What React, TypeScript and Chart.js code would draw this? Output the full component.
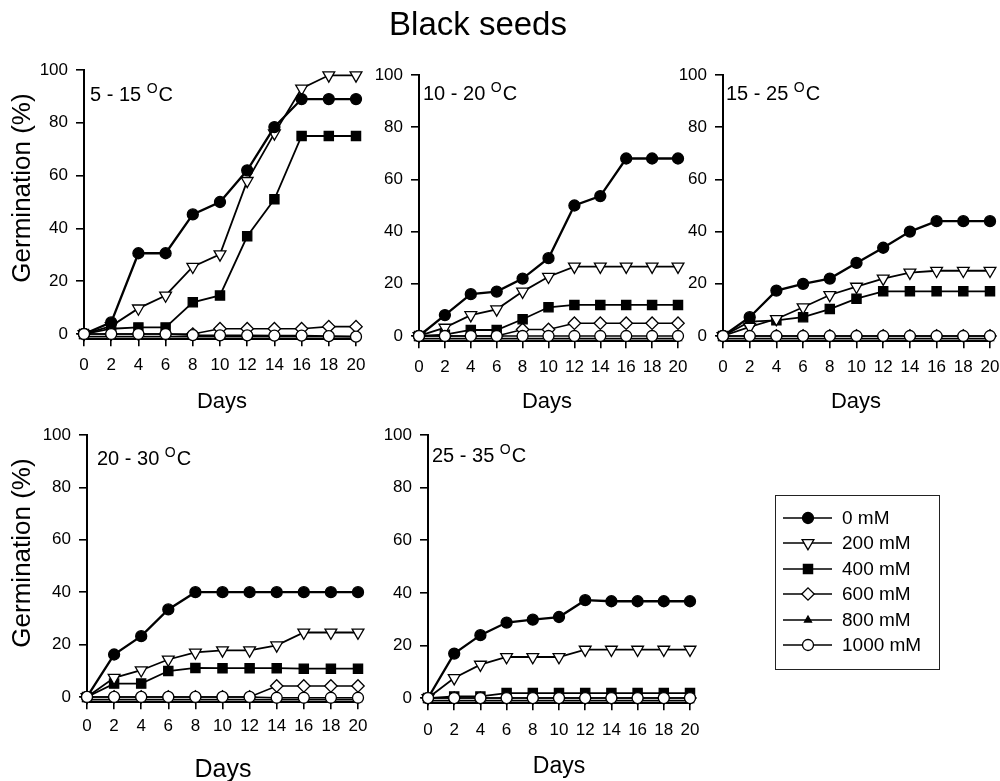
import React, { useEffect, useRef } from 'react';
import { Chart, registerables } from 'chart.js';
import { drawPoint } from 'chart.js/helpers';

Chart.register(...registerables);

const FONT = "'Liberation Sans', Arial, Helvetica, sans-serif";

const chartTitle = 'Black seeds';
const days = [0, 2, 4, 6, 8, 10, 12, 14, 16, 18, 20];
const yTicks = [0, 20, 40, 60, 80, 100];
const concentrations = ['0 mM', '200 mM', '400 mM', '600 mM', '800 mM', '1000 mM'];
const xTitle = 'Days';
const yTitle = 'Germination (%)';

// 5 - 15 °C
const p1_0 = [0, 4.4, 30.6, 30.6, 45.3, 50, 62, 78.4, 89, 89, 89];
const p1_200 = [0, 3, 9.7, 14.6, 25.5, 30.2, 58, 76, 93, 98, 98];
const p1_400 = [0, 2, 2.5, 2.5, 12, 14.6, 37, 51, 75, 75, 75];
const p1_600 = [0, 0, 0, 0, 0, 2, 2, 2, 2, 2.8, 2.8];
const p1_800 = [-1, -1, -1, -1, -1, -1, -1, -1, -1, -1, -1];
const p1_1000 = [0, 0, 0, 0, -0.4, -0.5, -0.5, -0.6, -0.6, -0.8, -1];

// 10 - 20 °C
const p2_0 = [0, 8, 16, 17, 22, 29.8, 50, 53.6, 68, 68, 68];
const p2_200 = [0, 3.2, 8, 10.2, 17, 22.7, 26.6, 26.6, 26.6, 26.6, 26.6];
const p2_400 = [0, 0.5, 2.3, 2.3, 6.4, 11, 11.9, 11.9, 11.9, 11.9, 11.9];
const p2_600 = [0, 0, 0, 0, 2.5, 2.5, 4.9, 4.9, 4.9, 4.9, 4.9];
const p2_800 = [-1, -1, -1, -1, -1, -1, -1, -1, -1, -1, -1];
const p2_1000 = [0, 0, 0, 0, 0, 0, 0, 0, 0, 0, 0];

// 15 - 25 °C
const p3_0 = [0, 7.2, 17.4, 20, 22, 28, 33.8, 40, 44, 44, 44];
const p3_200 = [0, 3.5, 6.5, 11, 15.7, 18.9, 22, 24.3, 25, 25, 25];
const p3_400 = [0, 5.5, 6, 7.2, 10.3, 14.3, 17.1, 17.1, 17.1, 17.1, 17.1];
const p3_600 = [0, 0, 0, 0, 0, 0, 0, 0, 0, 0, 0];
const p3_800 = [-1, -1, -1, -1, -1, -1, -1, -1, -1, -1, -1];
const p3_1000 = [0, 0, 0, 0, 0, 0, 0, 0, 0, 0, 0];

// 20 - 30 °C
const p4_0 = [0, 16.2, 23.2, 33.4, 40, 40, 40, 40, 40, 40, 40];
const p4_200 = [0, 7.3, 10.2, 14.3, 17, 17.8, 17.8, 19.7, 24.6, 24.6, 24.6];
const p4_400 = [0, 5.1, 5.1, 9.9, 11.1, 11, 11, 11, 10.8, 10.8, 10.8];
const p4_600 = [0, 0, 0, 0, 0, 0, 0, 4.2, 4.2, 4.2, 4.2];
const p4_800 = [-1, -1, -1, -1, -1, -1, -1, -1, -1, -1, -1];
const p4_1000 = [0, 0, 0, 0, 0, 0, 0, -0.3, -0.3, -0.3, -0.3];

// 25 - 35 °C
const p5_0 = [0, 16.9, 23.9, 28.7, 29.8, 30.8, 37.2, 36.8, 36.8, 36.8, 36.8];
const p5_200 = [0, 7.6, 12.7, 15.6, 15.6, 15.6, 18.4, 18.4, 18.4, 18.4, 18.4];
const p5_400 = [0, 0.6, 0.6, 1.9, 1.9, 1.9, 1.9, 1.9, 1.9, 1.9, 1.9];
const p5_600 = [0, 0, 0, 0, 0, 0, 0, 0, 0, 0, 0];
const p5_800 = [-1, -1, -1, -1, -1, -1, -1, -1, -1, -1, -1];
const p5_1000 = [0, 0, 0, 0, 0, 0, 0, 0, 0, 0, 0];

const panelTemps = [
  ['5 - 15 ', 'O', 'C'],
  ['10 - 20 ', 'O', 'C'],
  ['15 - 25 ', 'O', 'C'],
  ['20 - 30 ', 'O', 'C'],
  ['25 - 35 ', 'O', 'C'],
];
const panelSeries = [
  [p1_0, p1_200, p1_400, p1_600, p1_800, p1_1000],
  [p2_0, p2_200, p2_400, p2_600, p2_800, p2_1000],
  [p3_0, p3_200, p3_400, p3_600, p3_800, p3_1000],
  [p4_0, p4_200, p4_400, p4_600, p4_800, p4_1000],
  [p5_0, p5_200, p5_400, p5_600, p5_800, p5_1000],
];

// ---- styles & layout (not data) ----
const seriesStyle = [
  { pointStyle: 'circle', fill: '#000', radius: 5.5, rotation: 0, lineWidth: 2.3, order: 1 },
  { pointStyle: 'triangle', fill: '#fff', radius: 6.8, rotation: 180, lineWidth: 1.8, order: 2 },
  { pointStyle: 'rect', fill: '#000', radius: 6.5, rotation: 0, lineWidth: 1.8, order: 3 },
  { pointStyle: 'rectRot', fill: '#fff', radius: 6.2, rotation: 0, lineWidth: 1.6, order: 4 },
  { pointStyle: 'triangle', fill: '#000', radius: 4, rotation: 0, lineWidth: 1.6, order: 5 },
  { pointStyle: 'circle', fill: '#fff', radius: 5.5, rotation: 0, lineWidth: 1.6, order: 0 },
];

const W = 1000;
const H = 781;
const Y_AXIS_W = 60;
const X_AXIS_H = 60;

const layouts = [
  { l: 84, r: 356, t: 70, b: 339.3, xPad: 9, lab: { x: 90, y: 101 }, days: { x: 222, y: 402, s: 22 }, germ: { x: 23, y: 188 }, title: true },
  { l: 419, r: 678, t: 75, b: 341.2, xPad: 9, lab: { x: 423, y: 100 }, days: { x: 547, y: 402, s: 22 }, germ: null, title: false },
  { l: 723, r: 990, t: 75, b: 341.2, xPad: 9, lab: { x: 726, y: 100 }, days: { x: 856, y: 402, s: 22 }, germ: null, title: false },
  { l: 87, r: 358, t: 435, b: 702.2, xPad: 7, lab: { x: 97, y: 465 }, days: { x: 223, y: 770, s: 25 }, germ: { x: 23, y: 553 }, title: false },
  { l: 428, r: 690, t: 435, b: 703.3, xPad: 10, lab: { x: 432, y: 462 }, days: { x: 559, y: 767, s: 23 }, germ: null, title: false, legend: true },
];

const legendBox = { x: 775.5, y: 495.5, w: 164, h: 174, rows: [518, 543, 569, 594, 620, 645], l0: 783, l1: 832, mx: 808, tx: 842, fs: 19 };

function font(size: number) {
  return `${size}px ${FONT}`;
}

function makeDecor(idx: number) {
  const L = layouts[idx];
  return {
    id: 'decor' + idx,
    afterDraw(chart: any) {
      const ctx = chart.ctx as CanvasRenderingContext2D;
      ctx.save();
      ctx.fillStyle = '#000';
      // panel temperature label
      const [a, sup, c] = panelTemps[idx];
      ctx.textAlign = 'left';
      ctx.textBaseline = 'alphabetic';
      ctx.font = font(20);
      ctx.fillText(a, L.lab.x, L.lab.y);
      let x = L.lab.x + ctx.measureText(a).width;
      ctx.font = font(14);
      ctx.fillText(sup, x, L.lab.y - 8);
      x += ctx.measureText(sup).width + 1;
      ctx.font = font(20);
      ctx.fillText(c, x, L.lab.y);

      // Days
      ctx.textAlign = 'center';
      ctx.textBaseline = 'middle';
      ctx.font = font(L.days.s);
      ctx.fillText(xTitle, L.days.x, L.days.y);

      // Germination
      if (L.germ) {
        ctx.save();
        ctx.translate(L.germ.x, L.germ.y);
        ctx.rotate(-Math.PI / 2);
        ctx.font = font(26);
        ctx.fillText(yTitle, 0, 0);
        ctx.restore();
      }

      if (L.title) {
        ctx.font = font(33);
        ctx.textAlign = 'center';
        ctx.textBaseline = 'alphabetic';
        ctx.fillText(chartTitle, 478, 35);
      }

      if ((L as any).legend) {
        const B = legendBox;
        ctx.strokeStyle = '#222';
        ctx.lineWidth = 1;
        ctx.strokeRect(B.x, B.y, B.w, B.h);
        concentrations.forEach((name, i) => {
          const y = B.rows[i];
          const st = seriesStyle[i];
          ctx.strokeStyle = '#000';
          ctx.lineWidth = 1.5;
          ctx.beginPath();
          ctx.moveTo(B.l0, y);
          ctx.lineTo(B.l1, y);
          ctx.stroke();
          ctx.fillStyle = st.fill;
          ctx.strokeStyle = '#000';
          ctx.lineWidth = 1.3;
          drawPoint(ctx, { pointStyle: st.pointStyle as any, radius: st.radius, rotation: st.rotation, borderWidth: 1.3 }, B.mx, y);
          ctx.fillStyle = '#000';
          ctx.font = font(B.fs);
          ctx.textAlign = 'left';
          ctx.textBaseline = 'middle';
          ctx.fillText(name, B.tx, y + 1);
        });
      }
      ctx.restore();
    },
  };
}

function Panel({ idx }: { idx: number }) {
  const ref = useRef<HTMLCanvasElement>(null);
  useEffect(() => {
    const L = layouts[idx];
    const series = panelSeries[idx];
    const chart = new Chart(ref.current as HTMLCanvasElement, {
      type: 'line',
      data: {
        datasets: series.map((vals, i) => {
          const st = seriesStyle[i];
          return {
            label: concentrations[i],
            data: days.map((d, k) => ({ x: d, y: vals[k] })),
            borderColor: '#000',
            borderWidth: st.lineWidth,
            tension: 0,
            fill: false,
            pointStyle: st.pointStyle as any,
            pointRadius: st.radius,
            pointRotation: st.rotation,
            pointBackgroundColor: st.fill,
            pointBorderColor: '#000',
            pointBorderWidth: 1.3,
            order: st.order,
            clip: false as any,
          };
        }),
      },
      options: {
        responsive: false,
        animation: false,
        events: [],
        layout: {
          autoPadding: false,
          padding: {
            left: L.l - Y_AXIS_W,
            right: W - L.r,
            top: L.t,
            bottom: H - L.b - X_AXIS_H,
          },
        },
        plugins: {
          legend: { display: false },
          title: { display: false },
          tooltip: { enabled: false },
        },
        scales: {
          x: {
            type: 'linear',
            min: 0,
            max: 20,
            afterBuildTicks: (s: any) => {
              s.ticks = days.map((v) => ({ value: v }));
            },
            afterFit: (s: any) => {
              s.height = X_AXIS_H;
              s.paddingLeft = 0;
              s.paddingRight = 0;
            },
            border: { display: true, color: '#000', width: 2 },
            grid: { display: true, drawOnChartArea: false, drawTicks: true, tickLength: 7, color: '#000', lineWidth: 1.6 },
            ticks: { autoSkip: false, maxRotation: 0, minRotation: 0, padding: L.xPad, color: '#000', font: { size: 17, family: FONT } },
          },
          y: {
            type: 'linear',
            min: -2,
            max: 100,
            afterBuildTicks: (s: any) => {
              s.ticks = yTicks.map((v) => ({ value: v }));
            },
            afterFit: (s: any) => {
              s.width = Y_AXIS_W;
              s.paddingTop = 0;
              s.paddingBottom = 0;
            },
            border: { display: true, color: '#000', width: 2 },
            grid: { display: true, drawOnChartArea: false, drawTicks: true, tickLength: 8, color: '#000', lineWidth: 1.6 },
            ticks: { padding: 8, color: '#000', font: { size: 17, family: FONT } },
          },
        },
      },
      plugins: [makeDecor(idx)],
    } as any);
    return () => chart.destroy();
  }, [idx]);
  return (
    <canvas
      ref={ref}
      width={W}
      height={H}
      style={{ position: 'absolute', left: 0, top: 0, width: W, height: H, pointerEvents: 'none' }}
    />
  );
}

export default function App() {
  return (
    <div style={{ position: 'absolute', left: 0, top: 0, width: W, height: H, background: '#fff', overflow: 'hidden' }}>
      {layouts.map((_, i) => (
        <Panel key={i} idx={i} />
      ))}
    </div>
  );
}
